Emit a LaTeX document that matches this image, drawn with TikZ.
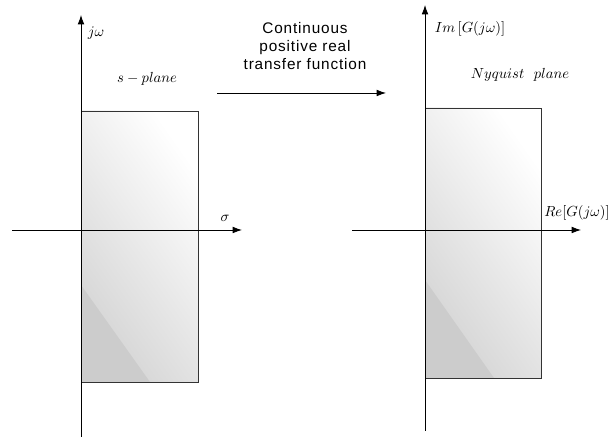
\documentclass[tikz,border=0pt]{standalone}
\usepackage{fontspec}
\setsansfont[LetterSpace=5.5]{Liberation Sans}
\usetikzlibrary{arrows.meta, positioning}

\begin{document}
\begin{tikzpicture}[x=0.75pt, y=0.75pt,
		>={Latex[length=7pt,width=5pt]},   % arrow tips
		font=\fontsize{11}{13}\selectfont,
		axis/.style={->, semithick},
		region/.style={bottom color=black!17, top color=white, shading angle=-55},
		corner/.style={fill=black!20},
		lbl/.style={inner sep=1pt}]
		\useasboundingbox (0,0) rectangle (613,438);
		% s-plane: region
		\shade[region] (81,56) rectangle (198,327);
		\fill[corner] (81,56) -- (81,153) -- (150,56) -- cycle;
		\draw[black!80] (81,56) rectangle (198,327);
		% s-plane: axes
		\coordinate (sW) at (12,208);  \coordinate (sE) at (242,208);
		\coordinate (sS) at (81,1);    \coordinate (sN) at (81,423);
		\draw[axis] (sW) -- (sE);
		\draw[axis] (sS) -- (sN);
		\node[lbl] (sigma) at (225,220) {$\sigma$};
		\node[lbl] (jw) at (96,405) {$j\omega$};
		\node[lbl] (splane) at (147,359) {$s-plane$};
		% Nyquist plane: region
		\shade[region] (425,60) rectangle (541,330);
		\fill[corner] (425,60) -- (425,158) -- (494,60) -- cycle;
		\draw[black!80] (425,60) rectangle (541,330);
		% Nyquist plane: axes
		\coordinate (nW) at (352,208); \coordinate (nE) at (581,208);
		\coordinate (nS) at (425,7);   \coordinate (nN) at (425,433);
		\draw[axis] (nW) -- (nE);
		\draw[axis] (nS) -- (nN);
		\node[lbl] (re) at (577,225) {$Re[G(j\omega)]$};
		\node[lbl] (im) at (470,409) {$Im\,[G(j\omega)]$};
		\node[lbl] (nyqplane) at (520,363) {$Nyquist~~plane$};
		% mapping s -> G
		\coordinate (mapA) at (217,345); \coordinate (mapB) at (386,345);
		\draw[->, semithick] (mapA) -- (mapB);
		\node[align=center, font=\sffamily\fontsize{11.5}{13.5}\selectfont] (map) at (305,392)
			{Continuous\\positive real\\transfer function};
\end{tikzpicture}
\end{document}
